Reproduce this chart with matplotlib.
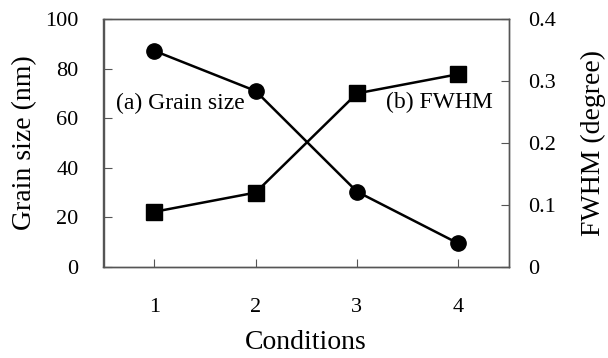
import matplotlib
matplotlib.use("Agg")
import matplotlib.pyplot as plt

conditions = [1, 2, 3, 4]
grain_size = [87.2, 71.0, 30.4, 9.5]
fwhm = [0.089, 0.120, 0.280, 0.311]

plt.rcParams['font.family'] = ['Liberation Serif', 'DejaVu Serif']

fig = plt.figure(figsize=(6.08, 3.58), dpi=100)
ax = fig.add_axes([103.5/608, 1-267/358, (509-103.5)/608, (267-19)/358])
ax2 = ax.twinx()

ax.plot(conditions, grain_size, color='black', lw=1.8, marker='o', ms=11, zorder=3)
ax2.plot(conditions, fwhm, color='black', lw=1.8, marker='s', ms=11, zorder=3)

ax.set_xlim(0.5, 4.5)
ax.set_ylim(0, 100)
ax2.set_ylim(0, 0.4)
ax.set_xticks(conditions)
ax.set_yticks([0, 20, 40, 60, 80, 100])
ax2.set_yticks([0, 0.1, 0.2, 0.3, 0.4])
ax2.set_yticklabels(['0', '0.1', '0.2', '0.3', '0.4'])

for a in (ax, ax2):
    for s in a.spines.values():
        s.set_color('#555555')
        s.set_linewidth(1.0)
ax.tick_params(axis='x', direction='in', length=6, color='#555555', labelsize=16, pad=22)
ax.tick_params(axis='y', direction='in', length=6, color='#555555', labelsize=16, pad=18)
ax2.tick_params(axis='y', direction='in', length=6, color='#555555', labelsize=16, pad=14)

ax.set_xlabel('Conditions', fontsize=20, labelpad=10)
ax.set_ylabel('Grain size (nm)', fontsize=20, labelpad=6)
ax2.set_ylabel('FWHM (degree)', fontsize=20, labelpad=18)

ax.text(0.62, 66, '(a) Grain size', fontsize=17, ha='left', va='center')
ax2.text(4.34, 0.266, '(b) FWHM', fontsize=17, ha='right', va='center')

fig.savefig('out.png', dpi=100)
